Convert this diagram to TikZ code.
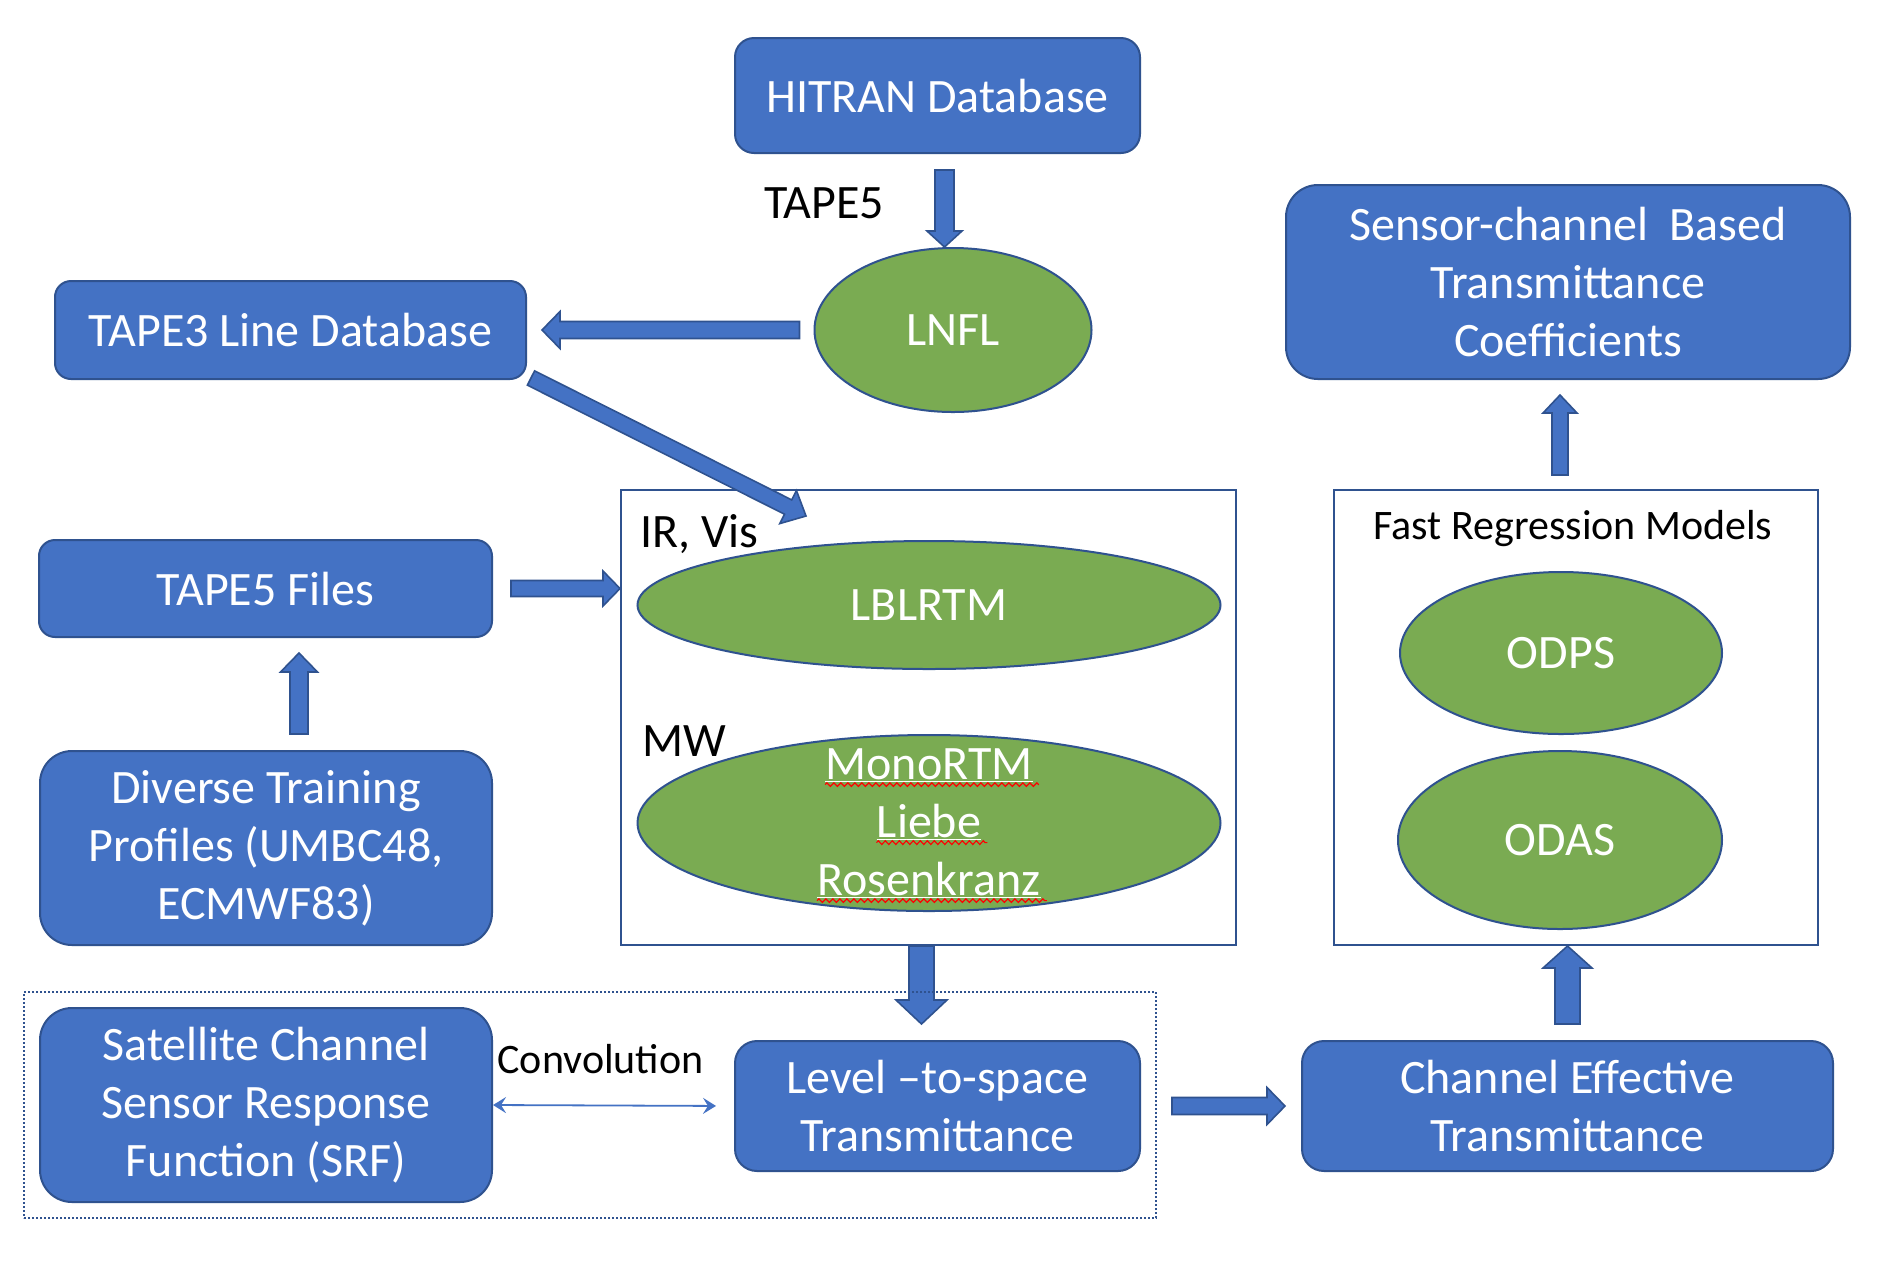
\documentclass[tikz,border=0pt]{standalone}
\usepackage{fontspec}
\setmainfont{Carlito}
\usetikzlibrary{shapes.geometric,calc,arrows.meta,decorations.pathmorphing}
\definecolor{boxblue}{RGB}{68,114,196}
\definecolor{edgeblue}{RGB}{47,82,143}
\definecolor{ovalgreen}{RGB}{122,171,82}
\newcommand{\bigtxt}{\fontsize{24}{29}\selectfont}
\newcommand{\midtxt}{\fontsize{21}{25}\selectfont}

\begin{document}
\begin{tikzpicture}[x=0.5pt,y=-0.5pt,
  bluebox/.style={draw=edgeblue,fill=boxblue,line width=1pt,rounded corners=#1,inner sep=0pt,text=white,align=center,font=\bigtxt},
  bluebox/.default=8pt,
  greenoval/.style={ellipse,draw=edgeblue,fill=ovalgreen,line width=1pt,inner sep=0pt,text=white,font=\bigtxt},
  framebox/.style={draw=edgeblue,line width=1pt,inner sep=0pt},
  lbl/.style={font=\bigtxt,inner sep=0pt},
  midlbl/.style={font=\midtxt,inner sep=0pt},
  wlbl/.style={font=\bigtxt,text=white,inner sep=0pt},
  ba/shaft/.store in=\bashaft,ba/head/.store in=\bahead,ba/len/.store in=\balen,
  ba/shaft=4.25pt,ba/head=9.25pt,ba/len=9pt,
  blockarrow/.style={draw=edgeblue,fill=boxblue,line width=0.8pt,line join=miter,#1,
    to path={(\tikztostart) coordinate (bas) (\tikztotarget) coordinate (bat)
      ($(bat)!\balen!(bas)$) coordinate (bab)
      ($(bas)!\bashaft!90:(bat)$) -- ($(bab)!\bashaft!90:(bat)$) -- ($(bab)!\bahead!90:(bat)$)
      -- (bat) -- ($(bab)!\bahead!-90:(bat)$) -- ($(bab)!\bashaft!-90:(bat)$)
      -- ($(bas)!\bashaft!-90:(bat)$) -- cycle}},
  blockarrow/.default={}]
\fill[white] (0,0) rectangle (1886,1266);
\useasboundingbox (0,0) rectangle (1886,1266);

\node[bluebox=9.5pt,minimum width=202.5pt,minimum height=57.5pt] (hitran) at (937.5,95.5) {HITRAN Database};
\node[bluebox=8pt,minimum width=235.5pt,minimum height=49pt] (tape3) at (290.5,330) {TAPE3 Line Database};
\node[greenoval,minimum width=138.5pt,minimum height=82pt] (lnfl) at (953,330) {LNFL};
\node[bluebox=16pt,minimum width=282pt,minimum height=97pt] (sensor) at (1568,282) {Sensor-channel\ \ Based\\Transmittance\\Coefficients};
\node[bluebox=8pt,minimum width=226.5pt,minimum height=48.5pt] (tape5f) at (265.5,588.5) {TAPE5 Files};
\node[framebox,minimum width=307.5pt,minimum height=227.5pt] (irbox) at (928.5,717.5) {};
\node[greenoval,minimum width=291.5pt,minimum height=64pt] (lblrtm) at (929,605) {LBLRTM};
\node[greenoval,minimum width=291.5pt,minimum height=88pt] (mono) at (929,823) {};
\node[framebox,minimum width=242pt,minimum height=227.5pt] (fastbox) at (1576,717.5) {};
\node[greenoval,minimum width=161pt,minimum height=81pt] (odps) at (1561,653) {ODPS};
\node[greenoval,minimum width=162pt,minimum height=89pt] (odas) at (1560,840) {ODAS};
\node[bluebox=16pt,minimum width=226pt,minimum height=97pt] (diverse) at (266,848) {Diverse Training\\Profiles (UMBC48,\\ECMWF83)};
\node[bluebox=16pt,minimum width=226pt,minimum height=97pt] (satellite) at (266,1105) {Satellite Channel\\Sensor Response\\Function (SRF)};
\node[bluebox=11pt,minimum width=202.5pt,minimum height=65pt] (level) at (937.5,1106) {Level –to-space\\Transmittance};
\node[bluebox=11pt,minimum width=265.5pt,minimum height=65pt] (channel) at (1567.5,1106) {Channel Effective\\Transmittance};

\node[lbl] (tape5lbl) at (824,203) {TAPE5};
\node[lbl,anchor=base west] (irvis) at (640,547) {IR, Vis};
\node[lbl,anchor=base west] (mw) at (642,756) {MW};
\node[midlbl,anchor=base] (fastlbl) at (1573,539) {Fast Regression Models};
\node[midlbl,anchor=base] (convlbl) at (600.5,1073) {Convolution};

\foreach \nm/\word/\yy in {monortm/MonoRTM/779,liebe/Liebe/837,rosen/Rosenkranz/895}{
  \node[wlbl,anchor=base] (\nm) at (929,\yy) {\word};
  \draw[white,line width=0.6pt] ([yshift=-1.2pt]\nm.base west) -- ([yshift=-1.2pt]\nm.base east);
  \draw[red,line width=0.6pt,decorate,decoration={zigzag,segment length=3.5pt,amplitude=0.9pt}] ([yshift=-2.8pt]\nm.base west) -- ([yshift=-2.8pt,xshift=3pt]\nm.base east);
}

\draw[blockarrow={ba/shaft=4.75pt,ba/head=8.75pt,ba/len=8pt}] ([xshift=3.5pt,yshift=-8pt]hitran.south) to ([xshift=-4.25pt]lnfl.north);
\draw[blockarrow] ([xshift=-7pt]lnfl.west) to ([xshift=7.5pt]tape3.east);
\draw[blockarrow={ba/shaft=4pt,ba/len=10pt}] ([xshift=2pt,yshift=1pt]tape3.south east) to ([xshift=93pt,yshift=-13.5pt]irbox.north west);
\draw[blockarrow={ba/shaft=4pt,ba/head=8.75pt,ba/len=8.5pt}] ([xshift=9pt]tape5f.east) to (tape5f.east -| irbox.west);
\draw[blockarrow={ba/shaft=4.5pt,ba/len=9.5pt}] ([xshift=16.5pt,yshift=8pt]diverse.north) to ([xshift=16.75pt,yshift=-7.5pt]tape5f.south);
\draw[blockarrow={ba/shaft=4pt,ba/head=8.5pt}] ([xshift=-8pt,yshift=7pt]fastbox.north) to ([xshift=-4pt,yshift=-7.5pt]sensor.south);
\draw[blockarrow={ba/shaft=6.25pt,ba/head=12.75pt,ba/len=12pt}] ([xshift=-3.5pt]irbox.south) to ([xshift=-8pt,yshift=8pt]level.north);
\draw[blockarrow] ([xshift=15.5pt]level.east) to ([xshift=-8pt]channel.west);
\draw[blockarrow={ba/shaft=6.25pt,ba/head=12.25pt,ba/len=11pt}] ([yshift=8pt]channel.north) to ([xshift=-4.25pt]fastbox.south);
\draw[boxblue,line width=0.9pt,{Stealth[length=6.5pt,width=8pt,inset=2.5pt]}-{Stealth[length=6.5pt,width=8pt,inset=2.5pt]},shorten >=9pt] (satellite.east) -- (level.west);

\node[draw=edgeblue,line width=0.8pt,dash pattern=on 0.8pt off 1.2pt,minimum width=566pt,minimum height=113pt,inner sep=0pt] (convgroup) at (590,1105) {};
\end{tikzpicture}
\end{document}
